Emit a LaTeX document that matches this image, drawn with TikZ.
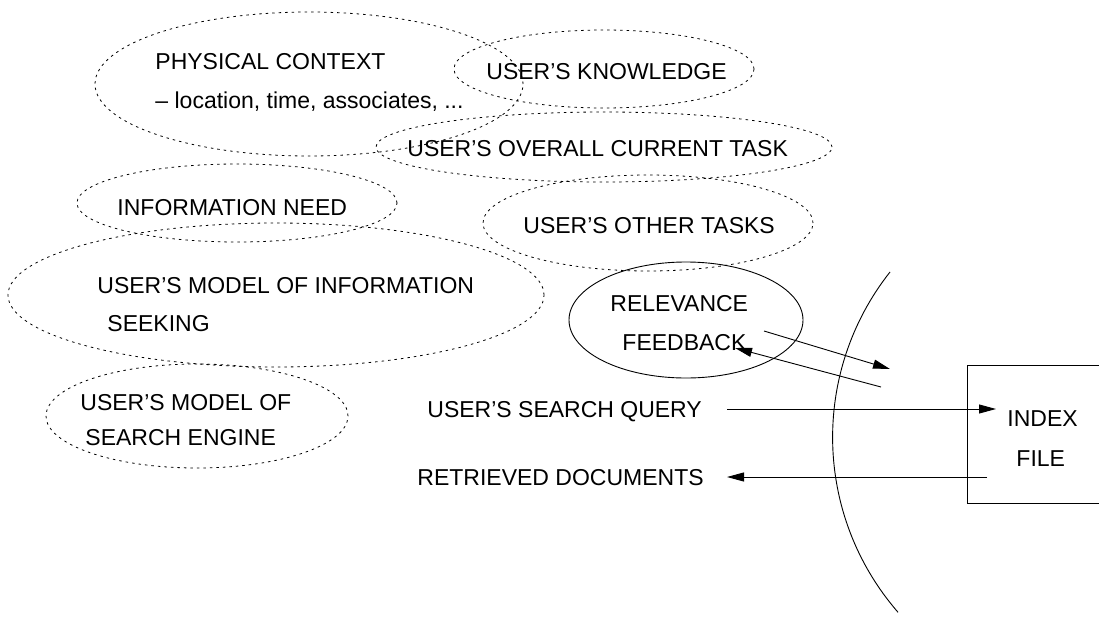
\documentclass[tikz,border=0pt]{standalone}
\usepackage{fontspec}
\setmainfont{Liberation Sans}
\usetikzlibrary{shapes.geometric,arrows.meta}

\begin{document}
\begin{tikzpicture}[x=1pt,y=-1pt,line width=0.9pt,
    every node/.style={font=\fontsize{23}{27}\selectfont,inner sep=0pt},
    cloud/.style={ellipse,draw,dash pattern=on 2.5pt off 4pt,line width=0.8pt},
    lbl/.style={anchor=base west},
    >={Triangle[length=17pt,width=9pt]}]
    \useasboundingbox (0,0) rectangle (1099,618);
    \clip (0,0) rectangle (1099,618);

    % context clouds
    \node[cloud,minimum width=428pt,minimum height=144pt](ctx)at(309,84){};
    \node[cloud,minimum width=300pt,minimum height=78pt](know)at(604,69){};
    \node[cloud,minimum width=456pt,minimum height=70pt](task)at(604,147){};
    \node[cloud,minimum width=320pt,minimum height=78pt](need)at(237,203){};
    \node[cloud,minimum width=330pt,minimum height=96pt](other)at(648,223){};
    \node[cloud,minimum width=536pt,minimum height=144pt](seek)at(276,295){};
    \node[cloud,minimum width=302pt,minimum height=104pt](engine)at(197,416){};
    \node[ellipse,draw,minimum width=234pt,minimum height=116pt](rel)at(686,320){};

    \node[lbl](ctxA)at(155,69){PHYSICAL CONTEXT};
    \node[lbl](ctxB)at(155,108){-- location, time, associates, ...};
    \node[lbl](knowT)at(486,79){USER'S KNOWLEDGE};
    \node[lbl](taskT)at(407,156){USER'S OVERALL CURRENT TASK};
    \node[lbl](needT)at(117,215){INFORMATION NEED};
    \node[lbl](otherT)at(523,233){USER'S OTHER TASKS};
    \node[lbl](seekA)at(97,293){USER'S MODEL OF INFORMATION};
    \node[lbl](seekB)at(107,331){SEEKING};
    \node[lbl](engA)at(80,410){USER'S MODEL OF};
    \node[lbl](engB)at(85,445){SEARCH ENGINE};
    \node[lbl](relA)at(610,311){RELEVANCE};
    \node[lbl](relB)at(622,350){FEEDBACK};
    \node[lbl](query)at(427,417){USER'S SEARCH QUERY};
    \node[lbl](docs)at(417,485){RETRIEVED DOCUMENTS};

    % index file
    \node[draw,minimum width=164pt,minimum height=138pt](box)at(1049,434){};
    \node[lbl](idxA)at(1007,426){INDEX};
    \node[lbl](idxB)at(1016,466){FILE};

    % interface
    \draw(890,272)arc[start angle=218.3,end angle=139,radius=266.7];

    \coordinate(q0)at(727,409); \coordinate(q1)at(996,409);
    \coordinate(d0)at(987,477); \coordinate(d1)at(727,477);
    \coordinate(f0)at(764,331); \coordinate(f1)at(890,369);
    \coordinate(g0)at(881,387); \coordinate(g1)at(735,348);
    \draw[->](q0)--(q1);
    \draw[->](d0)--(d1);
    \draw[->](f0)--(f1);
    \draw[->](g0)--(g1);
\end{tikzpicture}
\end{document}
